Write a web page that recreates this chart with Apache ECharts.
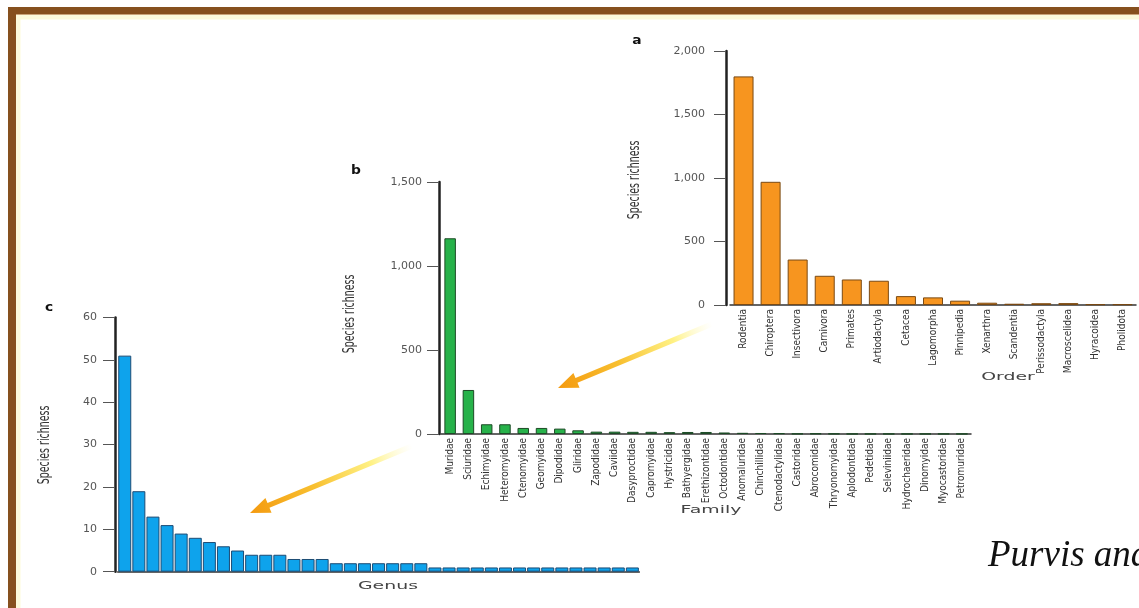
<!DOCTYPE html>
<html>
<head>
<meta charset="utf-8">
<script src="https://cdn.jsdelivr.net/npm/echarts@6/dist/echarts.min.js"></script>
<style>
html,body{margin:0;padding:0;background:#fff;}
#chart{width:1139px;height:608px;}
</style>
</head>
<body>
<div id="chart"></div>
<script>
// ---- Data ----
const orders = ['Rodentia','Chiroptera','Insectivora','Carnivora','Primates','Artiodactyla','Cetacea','Lagomorpha','Pinnipedia','Xenarthra','Scandentia','Perissodactyla','Macroscelidea','Hyracoidea','Pholidota'];
const orderValues = [1800, 970, 358, 230, 201, 191, 70, 60, 34, 18, 10, 14, 15, 6, 6];
const orderTicks = [0, 500, 1000, 1500, 2000];

const families = ['Muridae','Sciuridae','Echimyidae','Heteromyidae','Ctenomyidae','Geomyidae','Dipodidae','Gliridae','Zapodidae','Caviidae','Dasyproctidae','Capromyidae','Hystricidae','Bathyergidae','Erethizontidae','Octodontidae','Anomaluridae','Chinchillidae','Ctenodactylidae','Castoridae','Abrocomidae','Thryonomyidae','Aplodontidae','Pedetidae','Seleviniidae','Hydrochaeridae','Dinomyidae','Myocastoridae','Petromuridae'];
const familyValues = [1165, 262, 58, 58, 36, 36, 32, 22, 14, 14, 13, 13, 11, 12, 12, 9, 7, 6, 5, 2, 3, 2, 1, 1, 1, 1, 1, 1, 1];
const familyTicks = [0, 500, 1000, 1500];

const genusValues = [51, 19, 13, 11, 9, 8, 7, 6, 5, 4, 4, 4, 3, 3, 3, 2, 2, 2, 2, 2, 2, 2, 1, 1, 1, 1, 1, 1, 1, 1, 1, 1, 1, 1, 1, 1, 1];
const genera = genusValues.map((_, i) => 'Genus ' + (i + 1));
const genusTicks = [0, 10, 20, 30, 40, 50, 60];

const panelLetters = ['a', 'b', 'c'];
const axisNames = { y: 'Species richness', order: 'Order', family: 'Family', genus: 'Genus' };
const credit = 'Purvis and';

// ---- Styles ----
const NARROW = "'Liberation Sans Narrow','DejaVu Sans Condensed','Arial Narrow','Roboto Condensed',sans-serif";
const WIDE = "'DejaVu Sans',Verdana,sans-serif";

function fmt(v) { return v.toLocaleString('en-US'); }

function xCat(gridIndex, data, showLabels) {
  return {
    type: 'category', gridIndex: gridIndex, data: data,
    axisLine: { show: true, lineStyle: { color: '#333', width: 1.5 } },
    axisTick: { show: false },
    axisLabel: { show: showLabels, rotate: 90, interval: 0, fontFamily: NARROW, fontSize: 10, color: '#333', margin: 4 }
  };
}
function yVal(gridIndex, ticks, offset, margin) {
  return {
    type: 'value', gridIndex: gridIndex,
    min: ticks[0], max: ticks[ticks.length - 1], interval: ticks[1] - ticks[0],
    offset: offset,
    splitLine: { show: false },
    axisLine: { show: true, lineStyle: { color: '#222', width: 2.5 } },
    axisTick: { show: true, length: 12, lineStyle: { color: '#555', width: 1 } },
    axisLabel: { fontFamily: WIDE, fontSize: 11, color: '#555', margin: margin, formatter: fmt }
  };
}

function arrow(x1, y1, x2, y2) {
  const dx = x2 - x1, dy = y2 - y1, len = Math.hypot(dx, dy);
  const ux = dx / len, uy = dy / len, nx = -uy, ny = ux;
  const w = 2.6, h = 8, L = 20;
  const bx = x2 - ux * L, by = y2 - uy * L;
  return {
    type: 'polygon', z: 50,
    shape: { points: [
      [x1 + nx * w, y1 + ny * w], [bx + nx * w, by + ny * w], [bx + nx * h, by + ny * h],
      [x2, y2],
      [bx - nx * h, by - ny * h], [bx - nx * w, by - ny * w], [x1 - nx * w, y1 - ny * w]
    ] },
    style: { fill: { type: 'linear', x: x1, y: y1, x2: x2, y2: y2, global: true,
      colorStops: [ { offset: 0, color: 'rgba(255,250,190,0)' }, { offset: 0.25, color: 'rgba(255,240,120,0.9)' },
                    { offset: 0.6, color: '#f8c030' }, { offset: 1, color: '#f49a10' } ] } }
  };
}

function txt(text, x, y, opts) {
  const el = { type: 'text', x: x, y: y, z: 60,
    style: Object.assign({ text: text, align: 'center', verticalAlign: 'middle', fill: '#333', fontFamily: WIDE, fontSize: 13 }, opts.style || {}) };
  if (opts.rotation) el.rotation = opts.rotation;
  if (opts.scaleX) el.scaleX = opts.scaleX;
  if (opts.scaleY) el.scaleY = opts.scaleY;
  return el;
}

const yNameOpts = { rotation: Math.PI / 2, scaleX: 0.7, scaleY: 1.05, style: { fontFamily: NARROW, fontSize: 15 } };
const xNameOpts = { scaleX: 1.35, scaleY: 0.8, style: { fontSize: 14, fill: '#444' } };

const chart = echarts.init(document.getElementById('chart'), null, { renderer: 'canvas' });
chart.setOption({
  animation: false,
  backgroundColor: '#ffffff',
  grid: [
    { left: 730, top: 51, width: 406, height: 254 },
    { left: 441, top: 182, width: 530, height: 252 },
    { left: 117.7, top: 317.5, width: 521.7, height: 254.2 }
  ],
  xAxis: [ xCat(0, orders, true), xCat(1, families, true), xCat(2, genera, false) ],
  yAxis: [ yVal(0, orderTicks, 4, 21), yVal(1, familyTicks, 2, 17), yVal(2, genusTicks, 2.7, 18) ],
  series: [
    { type: 'bar', xAxisIndex: 0, yAxisIndex: 0, data: orderValues, barWidth: 20,
      itemStyle: { color: '#f7951f', borderColor: '#7a4a14', borderWidth: 1 } },
    { type: 'bar', xAxisIndex: 1, yAxisIndex: 1, data: familyValues, barWidth: 11.5,
      itemStyle: { color: '#27b24a', borderColor: '#1d4a26', borderWidth: 1 } },
    { type: 'bar', xAxisIndex: 2, yAxisIndex: 2, data: genusValues, barWidth: 13,
      itemStyle: { color: '#0ea3ec', borderColor: '#1c4b74', borderWidth: 1 } }
  ],
  graphic: [
    // frame
    { type: 'rect', z: 1, shape: { x: 18, y: 17, width: 1200, height: 700 }, style: { fill: 'none', stroke: 'rgba(252,250,215,0.9)', lineWidth: 5 } },
    { type: 'rect', z: 100, shape: { x: 8, y: 7, width: 1140, height: 7 }, style: { fill: '#86501e' } },
    { type: 'rect', z: 100, shape: { x: 8, y: 7, width: 8, height: 610 }, style: { fill: '#86501e' } },
    { type: 'rect', z: 100, shape: { x: 16, y: 14, width: 1130, height: 1 }, style: { fill: '#c9a47a' } },
    // arrows
    arrow(712, 324, 558, 388),
    arrow(412, 446, 250, 513),
    // panel letters
    txt(panelLetters[0], 637, 41, { scaleX: 1.15, style: { fontWeight: 'bold', fontSize: 12, fill: '#111' } }),
    txt(panelLetters[1], 356, 171, { scaleX: 1.15, style: { fontWeight: 'bold', fontSize: 12, fill: '#111' } }),
    txt(panelLetters[2], 49, 308, { scaleX: 1.15, style: { fontWeight: 'bold', fontSize: 12, fill: '#111' } }),
    // axis names
    txt(axisNames.y, 635, 180, yNameOpts),
    txt(axisNames.y, 350, 314, yNameOpts),
    txt(axisNames.y, 45, 445, yNameOpts),
    txt(axisNames.order, 1008, 377, xNameOpts),
    txt(axisNames.family, 711, 510, xNameOpts),
    txt(axisNames.genus, 388, 586, xNameOpts),
    // credit
    { type: 'text', x: 988, y: 556, z: 60, style: { text: credit, align: 'left', verticalAlign: 'middle', fill: '#111',
      fontFamily: "'Liberation Serif','DejaVu Serif',serif", fontStyle: 'italic', fontSize: 37 } }
  ]
});
</script>
</body>
</html>
